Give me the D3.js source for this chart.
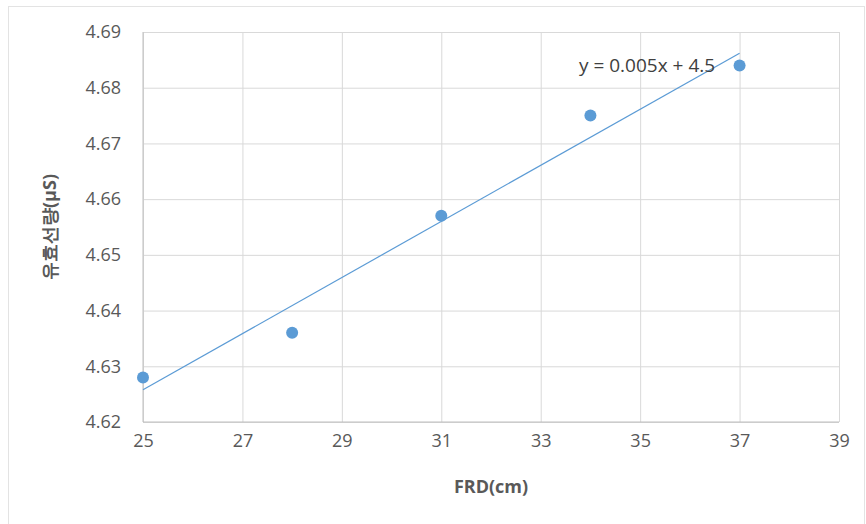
<!DOCTYPE html>
<html>
<head>
<meta charset="utf-8">
<script src="https://cdn.jsdelivr.net/npm/d3@7"></script>
<style>
  html, body { margin: 0; padding: 0; background: #fff; }
  svg { display: block; }
  text { font-family: "Open Sans", "Noto Sans", sans-serif; }
</style>
</head>
<body>
<svg id="chart" width="866" height="524"></svg>
<script>
// FRD (cm) against effective dose (μS)
const frd = [25, 28, 31, 34, 37];
const dose = [4.628, 4.636, 4.657, 4.675, 4.684];
const xTicks = [25, 27, 29, 31, 33, 35, 37, 39];
const yTicks = [4.62, 4.63, 4.64, 4.65, 4.66, 4.67, 4.68, 4.69];
const xTitle = "FRD(cm)";
const yTitle = "유효선량(μS)";
const equationLabel = "y = 0.005x + 4.5";

const svg = d3.select("#chart");
const plot = { left: 143, right: 839, top: 32, bottom: 422 };

const x = d3.scaleLinear().domain([25, 39]).range([plot.left, plot.right]);
const y = d3.scaleLinear().domain([4.62, 4.69]).range([plot.bottom, plot.top]);

// outer chart frame
svg.append("rect")
  .attr("x", 8.5).attr("y", 6.5)
  .attr("width", 856).attr("height", 520)
  .attr("fill", "#fff").attr("stroke", "#e3e3e3");

// gridlines
const gx = svg.append("g")
  .attr("transform", `translate(0,${plot.bottom})`)
  .call(d3.axisBottom(x).tickValues(xTicks)
    .tickSize(-(plot.bottom - plot.top)).tickPadding(12)
    .tickFormat(d3.format("d")));
gx.select(".domain").remove();
gx.selectAll(".tick line").attr("stroke", "#d9d9d9");
gx.selectAll(".tick text")
  .attr("fill", "#595959").attr("font-size", 18).attr("dy", "0.71em");

const gy = svg.append("g")
  .attr("transform", `translate(${plot.left},0)`)
  .call(d3.axisLeft(y).tickValues(yTicks)
    .tickSize(-(plot.right - plot.left)).tickPadding(22)
    .tickFormat(d3.format(".2f")));
gy.select(".domain").remove();
gy.selectAll(".tick line").attr("stroke", "#d9d9d9");
gy.selectAll(".tick text")
  .attr("fill", "#595959").attr("font-size", 18);

// axis lines
svg.append("line")
  .attr("x1", plot.left).attr("x2", plot.left)
  .attr("y1", plot.top).attr("y2", plot.bottom)
  .attr("stroke", "#bfbfbf");
svg.append("line")
  .attr("x1", plot.left).attr("x2", plot.right)
  .attr("y1", plot.bottom).attr("y2", plot.bottom)
  .attr("stroke", "#bfbfbf");

// least-squares trendline over the data range
const mx = d3.mean(frd), my = d3.mean(dose);
const slope = d3.sum(frd, (v, i) => (v - mx) * (dose[i] - my)) /
              d3.sum(frd, v => (v - mx) * (v - mx));
const intercept = my - slope * mx;
const xr = d3.extent(frd);
svg.append("line")
  .attr("x1", x(xr[0])).attr("y1", y(slope * xr[0] + intercept))
  .attr("x2", x(xr[1])).attr("y2", y(slope * xr[1] + intercept))
  .attr("stroke", "#5b9bd5").attr("stroke-width", 1.2);

// data points
svg.append("g").selectAll("circle")
  .data(frd)
  .join("circle")
  .attr("cx", d => x(d))
  .attr("cy", (d, i) => y(dose[i]))
  .attr("r", 6)
  .attr("fill", "#5b9bd5");

// trendline equation
svg.append("text")
  .attr("x", 579).attr("y", 72)
  .attr("fill", "#404040").attr("font-size", 19)
  .text(equationLabel);

// axis titles
svg.append("text")
  .attr("x", (plot.left + plot.right) / 2).attr("y", 493)
  .attr("text-anchor", "middle")
  .attr("fill", "#595959").attr("font-size", 18).attr("font-weight", "bold")
  .text(xTitle);

svg.append("text")
  .attr("transform", `translate(56,${(plot.top + plot.bottom) / 2}) rotate(-90)`)
  .attr("text-anchor", "middle")
  .attr("fill", "#595959").attr("font-size", 18).attr("font-weight", "bold")
  .attr("font-family", "'Noto Sans CJK KR', sans-serif")
  .text(yTitle);
</script>
</body>
</html>
